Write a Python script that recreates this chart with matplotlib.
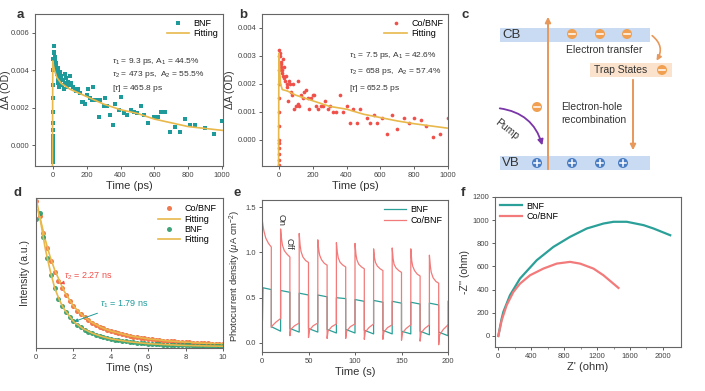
import numpy as np
import matplotlib.pyplot as plt
from matplotlib.patches import Rectangle, Circle, FancyArrowPatch

plt.rcParams['font.family'] = ['Liberation Sans', 'DejaVu Sans']
plt.rcParams['mathtext.fontset'] = 'custom'
plt.rcParams['mathtext.rm'] = 'Liberation Sans'
plt.rcParams['mathtext.it'] = 'Liberation Sans:italic'

# ---- panel a: BNF transient absorption ----
a_t = [0, 0, 0, 0, 0, 0, 0, 0, 0, 0, 0, 0, 0, 0, 0,
       5, 8, 10, 12, 15, 18, 20, 22, 25, 28, 30, 32, 35, 38, 40, 45, 50, 55, 60, 65,
       70, 75, 80, 85, 90, 95, 100, 110, 120, 130, 140, 150, 160, 170, 180, 190, 200,
       210, 220, 230, 240, 250, 260, 270, 280, 300, 310, 320, 340, 355, 370, 390, 400,
       420, 440, 460, 480, 500, 520, 540, 560, 600, 620, 640, 660, 690, 720, 750, 780,
       810, 840, 900, 950, 1000]
a_bnf = [-0.0009, -0.0007, -0.0005, -0.0003, -0.0001, 0.0001, 0.0003, 0.0005, 0.0008,
         0.0012, 0.0018, 0.0025, 0.0032, 0.0040, 0.0046,
         0.0053, 0.0050, 0.0049, 0.0047, 0.0046, 0.0044, 0.0042, 0.0040, 0.0038, 0.0035,
         0.0033, 0.0041, 0.0036, 0.0031, 0.0039, 0.0034, 0.0037, 0.0032, 0.0035, 0.0030,
         0.0038, 0.0033, 0.0036, 0.0031, 0.0034, 0.0032, 0.0037, 0.0033, 0.0031, 0.0030,
         0.0029, 0.0030, 0.0028, 0.0023, 0.0023, 0.0022, 0.0027, 0.0030, 0.0025, 0.0024,
         0.0031, 0.0024, 0.0024, 0.0015, 0.0024, 0.0021, 0.0025, 0.0021, 0.0016, 0.0011,
         0.0022, 0.0019, 0.0026, 0.0017, 0.0016, 0.0019, 0.0018, 0.0017, 0.0021, 0.0016,
         0.0012, 0.0015, 0.0015, 0.0018, 0.0018, 0.0007, 0.0010, 0.0007, 0.0014, 0.0011,
         0.0011, 0.0009, 0.0006, 0.0013]
a_fit_t = [-2, 0, 5, 10, 25, 50, 100, 200, 300, 400, 500, 600, 700, 800, 900, 1000]
a_fit = [-0.0011, 0.0045, 0.0042, 0.0040, 0.0036, 0.0033, 0.0030, 0.0026, 0.0022,
         0.0019, 0.0017, 0.0014, 0.0012, 0.0010, 0.0009, 0.0008]

# ---- panel b: Co/BNF transient absorption ----
b_t = [0, 0, 0, 0, 0, 0, 0, 0, 0, 0, 0, 0, 0,
       5, 8, 10, 12, 15, 18, 20, 22, 25, 28, 30, 35, 40, 45, 50, 55, 60, 65, 70, 80,
       85, 90, 100, 110, 115, 120, 130, 140, 150, 160, 170, 180, 190, 200, 210, 220,
       230, 250, 260, 270, 290, 300, 320, 340, 360, 380, 400, 420, 440, 460, 480, 520,
       540, 560, 580, 610, 640, 670, 700, 740, 770, 800, 840, 870, 910, 950, 1000]
b_co = [-0.0009, -0.0007, -0.0005, -0.0003, -0.0001, 0.0000, 0.0005, 0.0010, 0.0015,
        0.0020, 0.0025, 0.0030, 0.0032,
        0.0031, 0.0030, 0.0028, 0.0027, 0.0026, 0.0025, 0.0024, 0.0029, 0.0023, 0.0022,
        0.0026, 0.0021, 0.0023, 0.0020, 0.0019, 0.0014, 0.0021, 0.0020, 0.0017, 0.0016,
        0.0020, 0.0011, 0.0012, 0.0021, 0.0013, 0.0012, 0.0016, 0.0015, 0.0017, 0.0018,
        0.0015, 0.0011, 0.0015, 0.0016, 0.0016, 0.0012, 0.0011, 0.0012, 0.0012, 0.0014,
        0.0011, 0.0012, 0.0010, 0.0010, 0.0016, 0.0010, 0.0012, 0.0006, 0.0011, 0.0006,
        0.0011, 0.0008, 0.0006, 0.0009, 0.0006, 0.0008, 0.0002, 0.0009, 0.0004, 0.0008,
        0.0006, 0.0008, 0.0007, 0.0005, 0.0001, 0.0002, 0.0008]
b_fit_t = [-2, 0, 5, 10, 20, 50, 100, 200, 300, 400, 500, 600, 700, 800, 900, 1000]
b_fit = [-0.0009, 0.0031, 0.0024, 0.0020, 0.0018, 0.00175, 0.0016, 0.0014, 0.0012,
         0.0011, 0.00092, 0.0008, 0.00068, 0.00058, 0.0005, 0.00042]

# ---- panel d: TRPL decay ----
d_t = np.arange(0, 10.01, 0.2)
d_co = [0.98, 0.88, 0.77, 0.67, 0.58, 0.51, 0.45, 0.40, 0.355, 0.315, 0.28, 0.25, 0.225,
        0.205, 0.185, 0.17, 0.155, 0.143, 0.132, 0.122, 0.113, 0.105, 0.098, 0.092,
        0.086, 0.081, 0.076, 0.072, 0.068, 0.064, 0.061, 0.058, 0.055, 0.052, 0.050,
        0.048, 0.046, 0.044, 0.042, 0.040, 0.039, 0.037, 0.036, 0.035, 0.033, 0.032,
        0.031, 0.030, 0.029, 0.028, 0.027]
d_bnf = [0.86, 0.90, 0.74, 0.60, 0.49, 0.40, 0.33, 0.28, 0.24, 0.205, 0.178, 0.156,
         0.138, 0.123, 0.110, 0.099, 0.089, 0.081, 0.073, 0.067, 0.061, 0.056, 0.051,
         0.047, 0.044, 0.041, 0.038, 0.035, 0.033, 0.031, 0.029, 0.027, 0.026, 0.024,
         0.023, 0.022, 0.021, 0.020, 0.019, 0.018, 0.017, 0.017, 0.016, 0.015, 0.015,
         0.014, 0.014, 0.013, 0.013, 0.012, 0.012]
d_fit_t = [0, 0.25, 0.5, 0.75, 1, 1.25, 1.5, 2, 2.5, 3, 3.5, 4, 5, 6, 7, 8, 9, 10]
d_fit_co = [1.0, 0.85, 0.72, 0.61, 0.52, 0.45, 0.38, 0.28, 0.215, 0.17, 0.137, 0.113,
            0.081, 0.061, 0.048, 0.039, 0.032, 0.027]
d_fit_t2 = [0.1, 0.25, 0.5, 0.75, 1, 1.25, 1.5, 2, 2.5, 3, 3.5, 4, 5, 6, 7, 8, 9, 10]
d_fit_bnf = [0.92, 0.84, 0.66, 0.52, 0.40, 0.32, 0.26, 0.178, 0.13, 0.099, 0.077, 0.061,
             0.041, 0.029, 0.022, 0.017, 0.014, 0.012]

# ---- panel e: chopped photocurrent ----
e_t_co = [0, 0, 1, 2, 4, 7, 10, 10, 11, 15, 20,
          20, 21, 22, 24, 27, 30, 30, 31, 35, 40,
          40, 41, 42, 44, 47, 50, 50, 51, 55, 60,
          60, 61, 62, 64, 67, 70, 70, 71, 75, 80,
          80, 81, 82, 84, 87, 90, 90, 91, 95, 100,
          100, 101, 102, 104, 107, 110, 110, 111, 115, 120,
          120, 121, 122, 124, 127, 130, 130, 131, 135, 140,
          140, 141, 142, 144, 147, 150, 150, 151, 155, 160,
          160, 161, 162, 164, 167, 170, 170, 171, 175, 180,
          180, 181, 182, 184, 187, 190, 190, 191, 195, 200, 200]
e_co = [0.22, 1.38, 1.30, 1.24, 1.16, 1.10, 1.06, 0.17, 0.19, 0.23, 0.27,
        1.26, 1.15, 1.08, 1.02, 0.98, 0.95, 0.08, 0.15, 0.19, 0.22,
        1.21, 1.08, 1.01, 0.95, 0.91, 0.89, 0.06, 0.14, 0.19, 0.22,
        1.14, 1.03, 0.97, 0.92, 0.88, 0.86, 0.05, 0.13, 0.18, 0.21,
        1.11, 1.00, 0.94, 0.89, 0.86, 0.84, 0.05, 0.13, 0.18, 0.21,
        1.10, 0.98, 0.92, 0.87, 0.84, 0.82, 0.04, 0.12, 0.17, 0.21,
        1.04, 0.94, 0.89, 0.85, 0.82, 0.80, 0.04, 0.12, 0.17, 0.20,
        1.05, 0.93, 0.87, 0.83, 0.80, 0.78, 0.03, 0.11, 0.16, 0.20,
        1.04, 0.91, 0.85, 0.80, 0.76, 0.74, 0.02, 0.11, 0.16, 0.20,
        0.97, 0.85, 0.78, 0.72, 0.68, 0.66, -0.02, 0.09, 0.15, 0.20, 0.46]
e_t_bnf = [0, 0.5, 1, 10, 10, 20, 20, 30, 30, 40, 40, 50, 50, 60, 60, 70, 70, 80,
           80, 90, 90, 100, 100, 110, 110, 120, 120, 130, 130, 140, 140, 150, 150, 160,
           160, 170, 170, 180, 180, 190, 190, 200, 200]
e_bnf = [0.14, 0.26, 0.61, 0.59, 0.18, 0.13, 0.58, 0.56, 0.16, 0.12, 0.55, 0.53, 0.16,
         0.12, 0.53, 0.51, 0.15, 0.11, 0.50, 0.49, 0.15, 0.11, 0.48, 0.46, 0.14, 0.10,
         0.47, 0.45, 0.14, 0.10, 0.46, 0.44, 0.13, 0.10, 0.45, 0.43, 0.13, 0.09, 0.44,
         0.42, 0.12, 0.08, 0.20]

# ---- panel f: Nyquist plots ----
f_re_bnf = [0, 41, 61, 142, 264, 467, 669, 872, 1075, 1278, 1400, 1562, 1765, 1886, 2089]
f_im_bnf = [0, 150, 207, 352, 496, 654, 769, 856, 928, 971, 986, 986, 957, 928, 870]
f_re_co = [0, 41, 101, 183, 264, 385, 548, 710, 872, 994, 1156, 1278, 1460]
f_im_co = [0, 135, 265, 380, 452, 524, 582, 625, 640, 625, 582, 524, 415]

TEAL = '#1f9a9a'
RED = '#f0504a'
YEL = '#e8b84a'
PINK = '#f27a7a'
GREEN = '#2a9a6a'
ORANGE = '#f06a3a'
TXT = '#333333'

W, H = 705, 391


def box(l, t, r, b):
    return [l / W, 1 - b / H, (r - l) / W, (b - t) / H]


def style(ax):
    for s in ax.spines.values():
        s.set_color('#666666')
        s.set_linewidth(0.8)
    ax.tick_params(labelsize=5.5, colors='#444444', length=2.5, width=0.6, pad=1.5)


def leg(ax, loc, pad=0.1):
    ax.legend(loc=loc, fontsize=6.5, frameon=False, handlelength=2.5,
              borderaxespad=pad, labelspacing=0.15, handletextpad=0.5)


fig = plt.figure(figsize=(7.05, 3.91), dpi=100)

# a
ax = fig.add_axes(box(35, 14, 223, 166))
style(ax)
ax.scatter(a_t, a_bnf, marker='s', s=7, color=TEAL, lw=0, label='BNF', zorder=2)
ax.plot(a_fit_t, a_fit, color=YEL, lw=1.2, label='Fitting', zorder=3)
ax.set_xlim(-105, 1005)
ax.set_ylim(-0.0011, 0.007)
ax.set_xticks([0, 200, 400, 600, 800, 1000])
ax.set_yticks([0, 0.002, 0.004, 0.006])
ax.yaxis.set_major_formatter(plt.FormatStrFormatter('%.3f'))
ax.set_xlabel('Time (ps)', fontsize=8, color=TXT, labelpad=2)
ax.set_ylabel('ΔA (OD)', fontsize=7.5, color=TXT)
ax.yaxis.set_label_coords(-0.125, 0.5)
leg(ax, 'upper right')
ax.text(0.41, 0.68, r'$\tau_1$ = 9.3 ps, A$_1$ = 44.5%', transform=ax.transAxes, fontsize=6, color=TXT)
ax.text(0.41, 0.59, r'$\tau_2$ = 473 ps,  A$_2$ = 55.5%', transform=ax.transAxes, fontsize=6, color=TXT)
ax.text(0.41, 0.50, r'[$\tau$] = 465.8 ps', transform=ax.transAxes, fontsize=6, color=TXT)

# b
ax = fig.add_axes(box(262, 14, 448, 166))
style(ax)
ax.scatter(b_t, b_co, marker='o', s=7, color=RED, lw=0, label='Co/BNF', zorder=2)
ax.plot(b_fit_t, b_fit, color=YEL, lw=1.2, label='Fitting', zorder=3)
ax.set_xlim(-100, 1000)
ax.set_ylim(-0.00093, 0.0045)
ax.set_xticks([0, 200, 400, 600, 800, 1000])
ax.set_yticks([0, 0.001, 0.002, 0.003, 0.004])
ax.yaxis.set_major_formatter(plt.FormatStrFormatter('%.3f'))
ax.set_xlabel('Time (ps)', fontsize=8, color=TXT, labelpad=2)
ax.set_ylabel('ΔA (OD)', fontsize=7.5, color=TXT, labelpad=2)
leg(ax, 'upper right')
ax.text(0.47, 0.72, r'$\tau_1$ = 7.5 ps, A$_1$ = 42.6%', transform=ax.transAxes, fontsize=6, color=TXT)
ax.text(0.47, 0.61, r'$\tau_2$ = 658 ps,  A$_2$ = 57.4%', transform=ax.transAxes, fontsize=6, color=TXT)
ax.text(0.47, 0.50, r'[$\tau$] = 652.5 ps', transform=ax.transAxes, fontsize=6, color=TXT)

# c: schematic
axc = fig.add_axes(box(480, 0, 705, 185))
axc.set_xlim(480, 705)
axc.set_ylim(185, 0)
axc.axis('off')
axc.add_patch(Rectangle((500, 28), 150, 14, fc='#c8dbf3', ec='none'))
axc.add_patch(Rectangle((500, 156), 150, 14, fc='#c8dbf3', ec='none'))
axc.add_patch(Rectangle((590, 63), 82, 14, fc='#fbe2cc', ec='none'))
axc.text(502, 35, 'CB', fontsize=9.5, color=TXT, va='center')
axc.text(502, 163, 'VB', fontsize=9.5, color=TXT, va='center')
axc.text(594, 70, 'Trap States', fontsize=7.5, color=TXT, va='center')
axc.text(566, 50, 'Electron transfer', fontsize=7.5, color=TXT, va='center')
axc.text(561, 107, 'Electron-hole', fontsize=7.5, color=TXT, va='center')
axc.text(561, 120, 'recombination', fontsize=7.5, color=TXT, va='center')
axc.text(507, 129, 'Pump', fontsize=7.5, color=TXT, va='center', ha='center', rotation=-38)
axc.annotate('', xy=(548, 14), xytext=(548, 172),
             arrowprops=dict(arrowstyle='-|>', color='#e8985a', lw=1.4, mutation_scale=8))
axc.annotate('', xy=(633, 153), xytext=(633, 77),
             arrowprops=dict(arrowstyle='-|>', color='#e8985a', lw=1.4, mutation_scale=8))
axc.add_patch(FancyArrowPatch((650, 34), (655, 63), connectionstyle='arc3,rad=-0.5',
                              arrowstyle='-|>', color='#e8985a', lw=1.2, mutation_scale=7))
axc.add_patch(FancyArrowPatch((497, 108), (543, 148), connectionstyle='arc3,rad=-0.35',
                              arrowstyle='-|>', color='#7a35a8', lw=1.3, mutation_scale=8))
for cx, cy in [(572, 34), (600, 34), (627, 34), (662, 70), (537, 107)]:
    axc.add_patch(Circle((cx, cy), 5, fc='#f0a050', ec='none', zorder=3))
    axc.plot([cx - 3, cx + 3], [cy, cy], color='white', lw=1.1, zorder=4)
for cx, cy in [(537, 163), (572, 163), (600, 163), (623, 163)]:
    axc.add_patch(Circle((cx, cy), 5, fc='#4a7cc2', ec='none', zorder=3))
    axc.plot([cx - 3, cx + 3], [cy, cy], color='white', lw=1.1, zorder=4)
    axc.plot([cx, cx], [cy - 3, cy + 3], color='white', lw=1.1, zorder=4)

# d
ax = fig.add_axes(box(36, 198, 223, 348))
style(ax)
ax.plot(d_t, d_co, 'o', ms=3.6, color=ORANGE, mew=0, alpha=0.9, label='Co/BNF')
ax.plot(d_fit_t, d_fit_co, color=YEL, lw=1.2, label='Fitting')
ax.plot(d_t, d_bnf, 'o', ms=3.6, color=GREEN, mew=0, alpha=0.9, label='BNF')
ax.plot(d_fit_t2, d_fit_bnf, color=YEL, lw=1.2, label='Fitting')
ax.set_xlim(0, 10)
ax.set_ylim(0, 1.0)
ax.set_xticks([0, 2, 4, 6, 8, 10])
ax.set_yticks([])
ax.set_xlabel('Time (ns)', fontsize=8, color=TXT, labelpad=2)
ax.set_ylabel('Intensity (a.u.)', fontsize=7.5, color=TXT, labelpad=4)
leg(ax, 'upper right', pad=0.3)
ax.annotate(r'$\tau_2$ = 2.27 ns', xy=(1.3, 0.43), xytext=(1.5, 0.46), fontsize=6.5,
            color=RED, arrowprops=dict(arrowstyle='-|>', color=RED, lw=0.7, mutation_scale=5))
ax.annotate(r'$\tau_1$ = 1.79 ns', xy=(1.9, 0.17), xytext=(3.4, 0.28), fontsize=6.5,
            color=TEAL, arrowprops=dict(arrowstyle='-|>', color=TEAL, lw=0.7, mutation_scale=5))

# e
ax = fig.add_axes(box(262, 200, 448, 352))
style(ax)
ax.plot(e_t_bnf, e_bnf, color='#2aa098', lw=0.9, label='BNF')
ax.plot(e_t_co, e_co, color=PINK, lw=0.9, label='Co/BNF')
ax.set_xlim(0, 200)
ax.set_ylim(-0.1, 1.58)
ax.set_xticks([0, 50, 100, 150, 200])
ax.set_yticks([0, 0.5, 1.0, 1.5])
ax.yaxis.set_major_formatter(plt.FormatStrFormatter('%.1f'))
ax.set_xlabel('Time (s)', fontsize=8, color=TXT, labelpad=2)
ax.set_ylabel(r'Photocurrent density ($\mu$A cm$^{-2}$)', fontsize=6.8, color=TXT, labelpad=2)
leg(ax, 'upper right', pad=0.2)
ax.text(21, 1.36, 'On', fontsize=6.5, rotation=-90, color=TXT, ha='center', va='center')
ax.text(29.5, 1.10, 'Off', fontsize=6.5, rotation=-90, color=TXT, ha='center', va='center')

# f
ax = fig.add_axes(box(495, 197, 681, 347))
style(ax)
ax.plot(f_re_bnf, f_im_bnf, color='#2aa098', lw=1.6, label='BNF')
ax.plot(f_re_co, f_im_co, color=PINK, lw=1.6, label='Co/BNF')
ax.set_xlim(-40, 2220)
ax.set_ylim(-95, 1200)
ax.set_xticks([0, 400, 800, 1200, 1600, 2000])
ax.set_xticks([200, 600, 1000, 1400, 1800], minor=True)
ax.set_yticks([0, 200, 400, 600, 800, 1000, 1200])
ax.tick_params(which='minor', length=1.5, width=0.5, colors='#666666')
ax.set_xlabel("Z' (ohm)", fontsize=8, color=TXT, labelpad=2)
ax.set_ylabel("-Z'' (ohm)", fontsize=7.5, color=TXT, labelpad=2)
leg(ax, 'upper left')

# panel letters
for lab, x, y in [('a', 20, 15), ('b', 243, 15), ('c', 465, 15),
                  ('d', 17, 193), ('e', 237, 193), ('f', 463, 193)]:
    fig.text(x / W, 1 - y / H, lab, fontsize=9.5, fontweight='bold', color=TXT,
             ha='center', va='center')

fig.savefig('out.png', dpi=100)
